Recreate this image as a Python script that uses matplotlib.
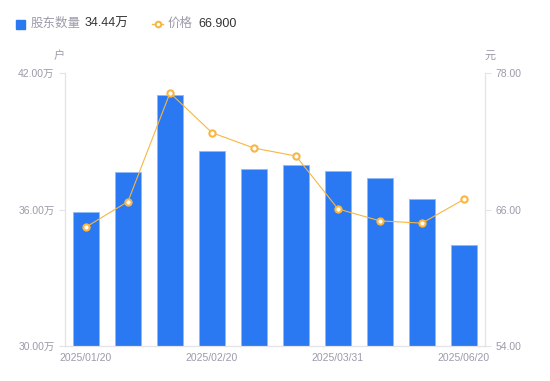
import numpy as np
import matplotlib.pyplot as plt
from matplotlib.lines import Line2D
from matplotlib.patches import Rectangle

plt.rcParams['font.family'] = ['Liberation Sans', 'Noto Sans CJK SC', 'DejaVu Sans']

# data
dates = ['2025/01/20', '2025/01/31', '2025/02/10', '2025/02/20', '2025/02/28',
         '2025/03/10', '2025/03/31', '2025/04/30', '2025/05/30', '2025/06/20']
holders = [35.89, 37.65, 41.03, 38.57, 37.80, 37.96, 37.70, 37.38, 36.46, 34.44]  # 万户
price = [64.46, 66.70, 76.25, 72.75, 71.40, 70.70, 66.05, 65.00, 64.80, 66.90]    # 元
shown_ticks = [0, 3, 6, 9]

blue = '#2a78f2'
orange = '#f8b643'
grey = '#9b9bab'
axis_grey = '#e4e4e8'

fig = plt.figure(figsize=(5.5, 3.81), dpi=100)
ax = fig.add_axes([65 / 550, 1 - 346 / 381, 420 / 550, 273 / 381])
ax2 = ax.twinx()

x = np.arange(len(dates))
ax.bar(x, holders, width=0.6, color=blue, edgecolor='#8fbaf8', linewidth=0.6, zorder=2)
ax.set_xlim(-0.5, len(dates) - 0.5)
ax.set_ylim(30, 42)
ax.set_yticks([30, 36, 42])
ax.set_yticklabels(['%.2f万' % v for v in [30, 36, 42]])

ax2.plot(x, price, color=orange, linewidth=0.8, marker='o', markersize=4.5,
         markerfacecolor='white', markeredgecolor=orange, markeredgewidth=1.5, zorder=3)
ax2.set_ylim(54, 78)
ax2.set_yticks([54, 66, 78])
ax2.set_yticklabels(['%.2f' % v for v in [54, 66, 78]])

ax.set_xticks(shown_ticks)
ax.set_xticklabels([dates[i] for i in shown_ticks])

for a in (ax, ax2):
    for s in a.spines.values():
        s.set_color(axis_grey)
    a.spines['top'].set_visible(False)
    a.tick_params(colors=grey, labelsize=7.5, length=4, width=0.8)
    a.tick_params(axis='y', colors=axis_grey, labelcolor=grey)
ax.tick_params(axis='x', length=0, pad=5)

fig.text(59 / 550, 1 - 56 / 381, '户', color=grey, fontsize=8, ha='center', va='center')
fig.text(490 / 550, 1 - 56 / 381, '元', color=grey, fontsize=8, ha='center', va='center')

# legend row
ly = 1 - 24 / 381
fig.patches.append(Rectangle((16 / 550, ly - 5 / 381), 9 / 550, 9 / 381,
                             transform=fig.transFigure, color=blue, figure=fig))
fig.text(31 / 550, ly, '股东数量', color=grey, fontsize=9, va='center')
fig.text(85 / 550, ly, '%.2f万' % holders[-1], color='#333333', fontsize=9, va='center')
fig.lines.append(Line2D([152 / 550, 163 / 550], [ly, ly], transform=fig.transFigure,
                        color=orange, linewidth=1))
fig.lines.append(Line2D([157.5 / 550], [ly], transform=fig.transFigure,
                        color=orange, marker='o', markersize=4,
                        markerfacecolor='white', markeredgewidth=1.5))
fig.text(168 / 550, ly, '价格', color=grey, fontsize=9, va='center')
fig.text(198 / 550, ly, '%.3f' % price[-1], color='#333333', fontsize=9, va='center')

plt.savefig('out.png', dpi=100)
